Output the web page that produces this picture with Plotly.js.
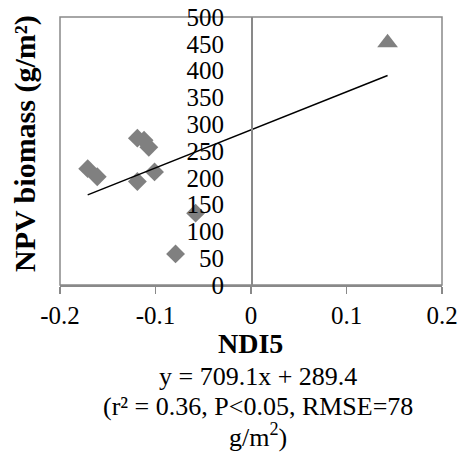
<!DOCTYPE html>
<html>
<head>
<meta charset="utf-8">
<script src="https://cdn.plot.ly/plotly-3.0.1.min.js"></script>
<style>
  html, body { margin: 0; padding: 0; background: #ffffff; }
  #chart { width: 463px; height: 455px; }
</style>
</head>
<body>
<div id="chart"></div>
<script>
// NDI5 index vs. NPV (non-photosynthetic vegetation) biomass
const ndi5 = [-0.171, -0.161, -0.119, -0.119, -0.112, -0.107, -0.101, -0.079, -0.058];
const npvBiomass = [217, 202, 193, 274, 270, 257, 211, 58, 134];

// single outlying site drawn as a triangle
const outlierNdi5 = [0.143];
const outlierNpv = [452];

// linear fit reported in the caption
const fitSlope = 709.1;
const fitIntercept = 289.4;

const xTickVals = [-0.2, -0.1, 0, 0.1, 0.2];
const xTickText = ['-0.2', '-0.1', '0', '0.1', '0.2'];
const yTickVals = [0, 50, 100, 150, 200, 250, 300, 350, 400, 450, 500];

const allX = ndi5.concat(outlierNdi5);
const fitX = [Math.min.apply(null, allX), Math.max.apply(null, allX)];
const fitY = fitX.map(x => fitSlope * x + fitIntercept);

const gray = '#808080';
const axisGray = '#898989';
const serif = 'Liberation Serif, Times New Roman, serif';

const traces = [
  {
    type: 'scatter', mode: 'markers', x: ndi5, y: npvBiomass,
    marker: { symbol: 'diamond', size: 14.5, color: gray },
    hoverinfo: 'x+y', showlegend: false
  },
  {
    type: 'scatter', mode: 'markers', x: outlierNdi5, y: outlierNpv,
    marker: { symbol: 'triangle-up', size: 18, color: gray },
    hoverinfo: 'x+y', showlegend: false
  },
  {
    type: 'scatter', mode: 'lines', x: fitX, y: fitY,
    line: { color: '#000000', width: 1.5 },
    hoverinfo: 'skip', showlegend: false
  }
];

const toPaperY = py => (285 - py) / 268;

const layout = {
  width: 463, height: 455,
  margin: { l: 60, r: 21, t: 17, b: 170 },
  paper_bgcolor: '#ffffff', plot_bgcolor: '#ffffff',
  font: { family: serif, color: '#000000', size: 25 },
  xaxis: {
    range: [-0.2, 0.2], tickvals: xTickVals, ticktext: xTickText,
    showgrid: false, zeroline: false,
    showline: true, linecolor: axisGray, linewidth: 1.5,
    ticks: 'outside', ticklen: 7, tickcolor: axisGray, tickwidth: 1.5,
    tickfont: { family: serif, size: 25, color: '#000000' },
    fixedrange: true
  },
  yaxis: {
    range: [0, 500], tickvals: yTickVals,
    anchor: 'free', position: 0.5,
    showgrid: false, zeroline: false,
    showline: true, linecolor: axisGray, linewidth: 1.5,
    ticks: 'outside', ticklen: 22, tickcolor: 'rgba(0,0,0,0)',
    tickfont: { family: serif, size: 25, color: '#000000' },
    fixedrange: true
  },
  shapes: [
    {
      type: 'rect', xref: 'paper', yref: 'paper', x0: 0, x1: 1, y0: 0, y1: 1,
      line: { color: axisGray, width: 1.5 }, fillcolor: 'rgba(0,0,0,0)', layer: 'below'
    }
  ],
  annotations: [
    {
      text: '<b>NPV biomass (g/m²)</b>', textangle: -90,
      xref: 'paper', yref: 'paper', x: (25 - 60) / 382, y: toPaperY(144),
      xanchor: 'center', yanchor: 'middle', showarrow: false,
      font: { family: serif, size: 30, color: '#000000' }
    },
    {
      text: '<b>NDI5</b>',
      xref: 'paper', yref: 'paper', x: (250 - 60) / 382, y: toPaperY(343),
      xanchor: 'center', yanchor: 'middle', showarrow: false,
      font: { family: serif, size: 28, color: '#000000' }
    },
    {
      text: 'y = ' + fitSlope.toFixed(1) + 'x + ' + fitIntercept.toFixed(1),
      xref: 'paper', yref: 'paper', x: (258 - 60) / 382, y: toPaperY(377),
      xanchor: 'center', yanchor: 'middle', showarrow: false,
      font: { family: serif, size: 26, color: '#000000' }
    },
    {
      text: '(r² = 0.36, P&lt;0.05, RMSE=78',
      xref: 'paper', yref: 'paper', x: (258 - 60) / 382, y: toPaperY(406),
      xanchor: 'center', yanchor: 'middle', showarrow: false,
      font: { family: serif, size: 26, color: '#000000' }
    },
    {
      text: 'g/m<sup>2</sup>)',
      xref: 'paper', yref: 'paper', x: (258 - 60) / 382, y: toPaperY(435),
      xanchor: 'center', yanchor: 'middle', showarrow: false,
      font: { family: serif, size: 26, color: '#000000' }
    }
  ]
};

Plotly.newPlot('chart', traces, layout, { displayModeBar: false, staticPlot: true });
</script>
</body>
</html>
